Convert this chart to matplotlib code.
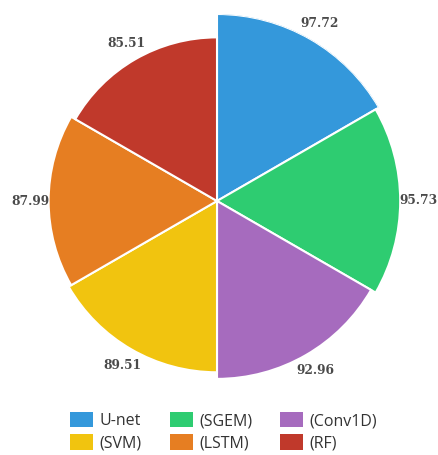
import numpy as np
import matplotlib.pyplot as plt
from matplotlib.patches import Patch

# models in clockwise order, starting at 12 o'clock
models = ['U-net', '(SGEM)', '(Conv1D)', '(SVM)', '(LSTM)', '(RF)']
accuracy = [97.72, 95.73, 92.96, 89.51, 87.99, 85.51]
colors = ['#3498db', '#2ecc71', '#a66bbe', '#f1c40f', '#e67e22', '#c0392b']


def main():
    fig = plt.figure(figsize=(4.38, 4.55), dpi=100)
    ax = fig.add_axes([30 / 438, 67 / 455, 374 / 438, 374 / 455], projection='polar')
    ax.set_theta_zero_location('N')
    ax.set_theta_direction(-1)

    n = len(models)
    width = 2 * np.pi / n
    theta = np.arange(n) * width + width / 2
    ax.bar(theta, accuracy, width=width, bottom=0, color=colors,
           edgecolor='white', linewidth=1.5, align='center')
    ax.set_ylim(0, max(accuracy))
    ax.set_axis_off()

    for t, v in zip(theta, accuracy):
        ax.text(t, v + 9.5, f'{v:.2f}', ha='center', va='center',
                fontsize=8.8, fontweight='bold', family='DejaVu Serif',
                color='#4a4a4a', clip_on=False)

    # legend is filled column-wise, so reorder to get rows like the original
    handles = [Patch(facecolor=c, edgecolor='none') for c in colors]
    order = [0, 3, 1, 4, 2, 5]
    leg = fig.legend([handles[i] for i in order], [models[i] for i in order],
                     ncol=3, loc='upper left', bbox_to_anchor=(70 / 438, 1 - 412 / 455),
                     frameon=False, borderpad=0, borderaxespad=0,
                     handlelength=1.45, handleheight=1.1, handletextpad=0.4,
                     columnspacing=1.75, labelspacing=0.32,
                     prop={'family': 'Open Sans', 'size': 11.5})
    for txt in leg.get_texts():
        txt.set_color('#333333')

    fig.savefig('out.png', dpi=100)


if __name__ == "__main__":
    main()
